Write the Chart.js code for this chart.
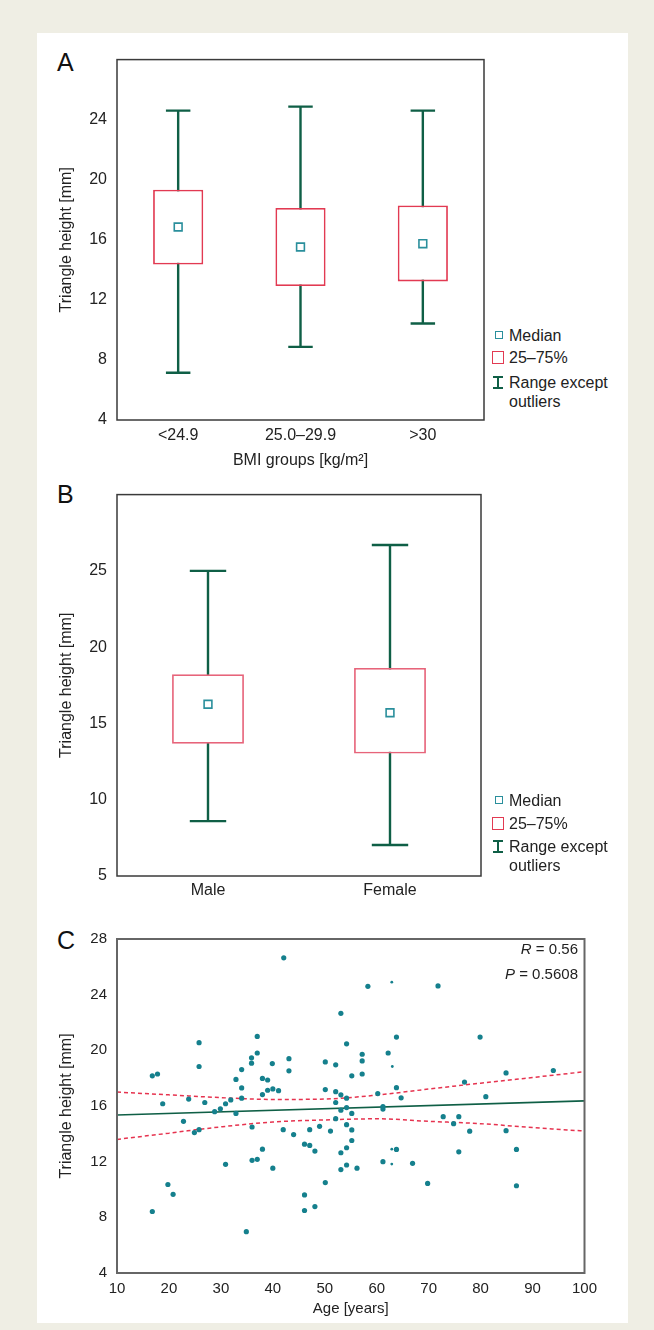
<!DOCTYPE html>
<html>
<head>
<meta charset="utf-8">
<script src="https://cdn.jsdelivr.net/npm/chart.js@4.4.1/dist/chart.umd.min.js"></script>
<style>
  body { margin: 0; width: 654px; height: 1330px; background: #efeee4; position: relative; overflow: hidden;
         font-family: "Liberation Sans", Arial, sans-serif; color: #222; }
  .sheet { position: absolute; left: 37px; top: 33px; width: 591px; height: 1290px; background: #fff; }
  canvas { position: absolute; }
  .letter { position: absolute; left: 57px; font-size: 25px; line-height: 25px; color: #111; }
  .leg-text { position: absolute; left: 509px; font-size: 16px; line-height: 18px; white-space: nowrap; }
  .med-icon { position: absolute; left: 495px; width: 8px; height: 8px; box-sizing: border-box; border: 1.5px solid #2a8f9c; }
  .box-icon { position: absolute; left: 492px; width: 12px; height: 13px; box-sizing: border-box; border: 1.5px solid #e23a52; }
  .range-icon { position: absolute; left: 492px; }
  .stat { position: absolute; right: 76px; font-size: 15px; line-height: 18px; text-align: right; white-space: nowrap; }
</style>
</head>
<body>
<div class="sheet"></div>
<div class="letter" style="top:50px">A</div>
<div class="letter" style="top:482px">B</div>
<div class="letter" style="top:928px">C</div>
<canvas id="chartA" width="455" height="440" style="left:37px;top:40px"></canvas>
<canvas id="chartB" width="455" height="440" style="left:37px;top:475px"></canvas>
<canvas id="chartC" width="580" height="405" style="left:37px;top:920px"></canvas>
<div class="stat" style="top:940px"><i>R</i> = 0.56</div>
<div class="stat" style="top:965px"><i>P</i> = 0.5608</div>
<script>
// --- DATA: A (BMI groups) ---
const bmiGroups = ['<24.9', '25.0–29.9', '>30'];
const bmiMin = [7.15, 8.87, 10.43];
const bmiQ1 = [14.36, 12.92, 13.23];
const bmiMedian = [16.85, 15.52, 15.74];
const bmiQ3 = [19.34, 18.12, 18.28];
const bmiMax = [24.6, 24.87, 24.6];
const bmiTicks = [4, 8, 12, 16, 20, 24];

// --- DATA: B (sex) ---
const sexGroups = ['Male', 'Female'];
const sexMin = [8.6, 7.03];
const sexQ1 = [13.67, 13.03];
const sexMedian = [16.26, 15.7];
const sexQ3 = [18.22, 18.64];
const sexMax = [25.0, 26.7];
const sexTicks = [5, 10, 15, 20, 25];

// --- DATA: C (age scatter) ---
const ageYears = [42.1, 53.1, 54.2, 25.8, 25.8, 37.0, 37.0, 35.9, 35.9, 43.1, 43.1, 39.9, 34.0, 32.9, 34.0, 34.0,
  38.0, 39.0, 38.0, 39.0, 40.0, 41.1, 16.8, 17.8, 18.8, 23.8, 26.9, 28.8, 29.9, 30.9, 31.9, 32.9, 22.8, 25.8, 24.9,
  36.0, 42.0, 50.1, 52.1, 55.2, 50.1, 52.1, 53.1, 54.2, 52.1, 54.2, 53.1, 55.2, 52.1, 54.2, 47.1, 49.0, 51.1, 44.0,
  55.2, 55.2, 54.2, 53.1, 54.2, 53.1, 56.2, 46.1, 47.1, 48.1, 38.0, 36.0, 37.0, 30.9, 40.0, 50.1, 19.8, 20.8, 16.8,
  46.1, 46.1, 48.1, 34.9, 58.3, 71.8, 63.8, 79.9, 57.2, 57.2, 62.2, 57.2, 63.8, 60.2, 64.7, 61.2, 61.2, 76.9, 81.0,
  84.9, 94.0, 72.8, 75.8, 74.8, 84.9, 77.9, 86.9, 75.8, 63.8, 61.2, 66.9, 69.8, 86.9];
const heightMm = [26.65, 22.66, 20.47, 20.55, 18.84, 21.0, 19.81, 19.46, 19.08, 19.4, 18.53, 19.05, 18.62, 17.91, 17.3, 16.56,
  17.98, 17.87, 16.82, 17.13, 17.23, 17.1, 18.17, 18.3, 16.16, 16.5, 16.25, 15.59, 15.8, 16.16, 16.44, 15.47, 14.9, 14.3, 14.09,
  14.49, 14.3, 19.17, 18.96, 18.17, 17.18, 17.03, 16.8, 16.56, 16.25, 15.89, 15.7, 15.47, 15.09, 14.66, 14.3, 14.54, 14.2, 13.95,
  14.28, 13.52, 13.0, 12.64, 11.76, 11.43, 11.53, 13.26, 13.17, 12.76, 12.9, 12.1, 12.17, 11.81, 11.53, 10.5, 10.36, 9.65, 8.42,
  9.61, 8.49, 8.77, 6.97, 24.6, 24.63, 20.95, 20.95, 19.72, 19.24, 19.81, 18.3, 17.32, 16.89, 16.59, 15.96, 15.78, 17.72, 16.67,
  18.38, 18.55, 15.23, 15.23, 14.73, 14.23, 14.19, 12.88, 12.71, 12.88, 12.0, 11.88, 10.44, 10.27];
// half-erased dots in the print
const fadedAges = [62.9, 63.0, 62.9, 62.9];
const fadedHeights = [24.9, 18.84, 12.9, 11.83];
// regression line and 95% band
const fitAges = [10, 100];
const fitHeights = [15.35, 16.37];
const bandAges = [10, 20, 30, 40, 50, 60, 70, 80, 90, 100];
const bandUpper = [17.0, 16.8, 16.6, 16.47, 16.5, 16.78, 17.22, 17.64, 18.05, 18.46];
const bandLower = [13.6, 14.05, 14.5, 14.85, 15.0, 15.08, 14.9, 14.73, 14.45, 14.2];
const ageTicks = [10, 20, 30, 40, 50, 60, 70, 80, 90, 100];
const heightTicks = [4, 8, 12, 16, 20, 24, 28];

// --- Colours ---
const INK = '#222';
const TEAL = '#2a8f9c';
const DOT = '#15808d';
const GREEN = '#0f5f46';
const RED = '#e6334f';

Chart.defaults.font.family = '"Liberation Sans", Arial, sans-serif';
Chart.defaults.color = INK;

// --- Plugins ---
const whiskers = {
  id: 'whiskers',
  beforeDatasetsDraw(chart, args, opts) {
    const { ctx, scales: { x, y } } = chart;
    const half = (x.width / opts.lo.length) * opts.cap / 2;
    ctx.save();
    ctx.strokeStyle = GREEN;
    ctx.lineWidth = 2.4;
    opts.lo.forEach((lo, i) => {
      const px = x.getPixelForValue(i);
      const top = y.getPixelForValue(opts.hi[i]);
      const bot = y.getPixelForValue(lo);
      ctx.beginPath();
      ctx.moveTo(px, top); ctx.lineTo(px, bot);
      ctx.moveTo(px - half, top); ctx.lineTo(px + half, top);
      ctx.moveTo(px - half, bot); ctx.lineTo(px + half, bot);
      ctx.stroke();
    });
    ctx.restore();
  }
};

const frame = {
  id: 'frame',
  afterDatasetsDraw(chart, args, opts) {
    const { ctx, chartArea: a } = chart;
    ctx.save();
    ctx.strokeStyle = opts.color;
    ctx.lineWidth = opts.width;
    ctx.strokeRect(a.left, a.top, a.right - a.left, a.bottom - a.top);
    ctx.restore();
  }
};

// --- Box charts (A, B) ---
function boxChart(id, groups, lo, q1, med, q3, hi, ticks, yMax, step, boxColor, barPct, pad, xTitle) {
  return new Chart(document.getElementById(id), {
    type: 'bar',
    data: {
      labels: groups,
      datasets: [
        {
          type: 'line', data: med, showLine: false, order: 0,
          pointStyle: 'rect', pointRadius: 5.5, pointBorderWidth: 1.6,
          borderColor: TEAL, backgroundColor: '#fff'
        },
        {
          data: q1.map((v, i) => [v, q3[i]]), order: 1,
          backgroundColor: '#fff', borderColor: boxColor, borderWidth: 1.8, borderSkipped: false,
          barPercentage: barPct, categoryPercentage: 1
        }
      ]
    },
    options: {
      responsive: false, animation: false, events: [],
      layout: { padding: { top: pad.top, right: pad.right, left: 0, bottom: 0 } },
      plugins: {
        legend: { display: false }, tooltip: { enabled: false },
        whiskers: { lo: lo, hi: hi, cap: 0.2 },
        frame: { color: '#3a3a3a', width: 1.5 }
      },
      scales: {
        x: {
          grid: { display: false, drawTicks: false }, border: { display: false },
          ticks: { font: { size: 16 }, padding: pad.xTick },
          title: { display: !!xTitle, text: xTitle, font: { size: 16 }, padding: { top: 0, bottom: 10 } },
          afterFit: s => { s.height = pad.xHeight; }
        },
        y: {
          min: ticks[0], max: yMax,
          grid: { display: false, drawTicks: false }, border: { display: false },
          ticks: { stepSize: step, padding: 10, font: { size: 16 }, callback: v => ticks.includes(v) ? v : '' },
          title: { display: true, text: 'Triangle height [mm]', font: { size: 16 }, padding: { top: 20, bottom: 0 } },
          afterFit: s => { s.width = 80; }
        }
      }
    },
    plugins: [whiskers, frame]
  });
}

boxChart('chartA', bmiGroups, bmiMin, bmiQ1, bmiMedian, bmiQ3, bmiMax, bmiTicks, 28, 4, '#e23a52', 0.41,
  { top: 14, right: 8, xHeight: 60, xTick: 6 }, 'BMI groups [kg/m²]');
boxChart('chartB', sexGroups, sexMin, sexQ1, sexMedian, sexQ3, sexMax, sexTicks, 30, 5, '#e7647a', 0.395,
  { top: 12, right: 11, xHeight: 39, xTick: 5 }, '');

// --- Scatter (C) ---
new Chart(document.getElementById('chartC'), {
  type: 'scatter',
  data: {
    datasets: [
      { data: ageYears.map((a, i) => ({ x: a, y: heightMm[i] })), order: 0,
        pointRadius: 2.6, pointBorderWidth: 0, backgroundColor: DOT },
      { data: fadedAges.map((a, i) => ({ x: a, y: fadedHeights[i] })), order: 0,
        pointRadius: 1.4, pointBorderWidth: 0, backgroundColor: DOT },
      { data: fitAges.map((a, i) => ({ x: a, y: fitHeights[i] })), order: 1, showLine: true,
        borderColor: GREEN, borderWidth: 1.6, pointRadius: 0 },
      { data: bandAges.map((a, i) => ({ x: a, y: bandUpper[i] })), order: 1, showLine: true,
        borderColor: RED, borderWidth: 1.5, borderDash: [4, 3], pointRadius: 0, cubicInterpolationMode: 'monotone' },
      { data: bandAges.map((a, i) => ({ x: a, y: bandLower[i] })), order: 1, showLine: true,
        borderColor: RED, borderWidth: 1.5, borderDash: [4, 3], pointRadius: 0, cubicInterpolationMode: 'monotone' }
    ]
  },
  options: {
    responsive: false, animation: false, events: [],
    layout: { padding: { top: 16, right: 32.5, left: 0, bottom: 0 } },
    plugins: {
      legend: { display: false }, tooltip: { enabled: false },
      frame: { color: '#666', width: 2 }
    },
    scales: {
      x: {
        type: 'linear', min: ageTicks[0], max: ageTicks[ageTicks.length - 1],
        grid: { display: false, drawTicks: false }, border: { display: false },
        ticks: { stepSize: 10, padding: 7, font: { size: 15 }, callback: v => ageTicks.includes(v) ? v : '' },
        title: { display: true, text: 'Age [years]', font: { size: 15 }, padding: { top: 0, bottom: 7 } },
        afterFit: s => { s.height = 52; }
      },
      y: {
        min: heightTicks[0], max: heightTicks[heightTicks.length - 1],
        grid: { display: false, drawTicks: false }, border: { display: false },
        ticks: { stepSize: 4, padding: 10, font: { size: 15 }, callback: v => heightTicks.includes(v) ? v : '' },
        title: { display: true, text: 'Triangle height [mm]', font: { size: 16 }, padding: { top: 20, bottom: 0 } },
        afterFit: s => { s.width = 80; }
      }
    }
  },
  plugins: [frame]
});

// --- Legends (HTML) ---
function addLegend(c) {
  // c: vertical centres of the four legend lines
  document.body.insertAdjacentHTML('beforeend', `
    <div class="med-icon" style="top:${c[0] - 5}px"></div>
    <div class="leg-text" style="top:${c[0] - 9}px">Median</div>
    <div class="box-icon" style="top:${c[1] - 7}px"></div>
    <div class="leg-text" style="top:${c[1] - 9}px">25–75%</div>
    <svg class="range-icon" style="top:${c[2] - 7}px" width="12" height="13">
      <path d="M1 1H11M6 1V12M1 12H11" stroke="${GREEN}" stroke-width="2" fill="none"/>
    </svg>
    <div class="leg-text" style="top:${c[2] - 9}px">Range except</div>
    <div class="leg-text" style="top:${c[3] - 9}px">outliers</div>`);
}
addLegend([336, 358, 383, 402]);
addLegend([801, 824, 847, 866]);
</script>
</body>
</html>
